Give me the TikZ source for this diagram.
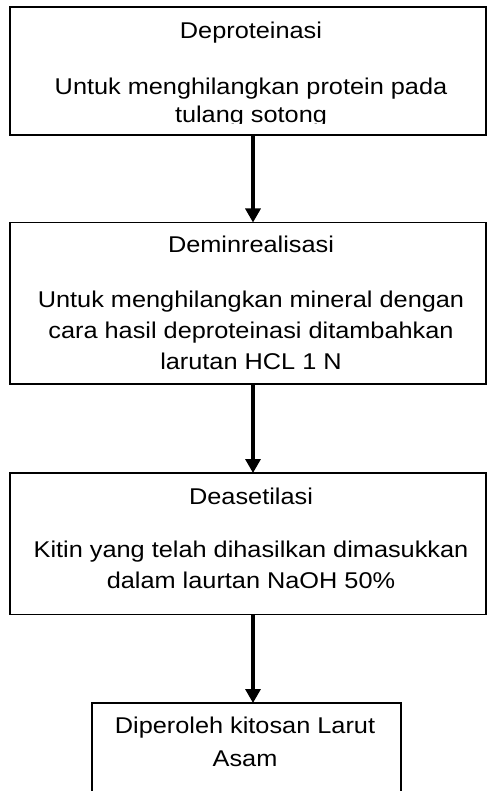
\documentclass[tikz,border=0pt]{standalone}
\usepackage{fontspec}
\setmainfont{Liberation Sans}[FakeStretch=1.11]
\usetikzlibrary{arrows.meta}
\begin{document}
\begin{tikzpicture}[x=1pt,y=-1pt,
  box/.style={draw=black,line width=1.1pt,inner sep=0pt,outer sep=0pt,rectangle},
  txt/.style={anchor=base,inner sep=0pt,font=\fontsize{22.8pt}{26pt}\selectfont},
  arr/.style={line width=3.2pt,-{Triangle[width=15pt,length=14pt]}}]
\useasboundingbox (0,0) rectangle (487,791);
\fill[white] (0,0) rectangle (487,791);
% boxes
\node[box,minimum width=476pt,minimum height=128pt] (b1) at (248,71) {};
\node[box,minimum width=476pt,minimum height=161.5pt] (b2) at (248,303.25) {};
\node[box,minimum width=476pt,minimum height=141.5pt] (b3) at (248,543.75) {};
\node[box,minimum width=309pt,minimum height=110pt] (b4) at (246.5,758) {};
% arrow anchors
\coordinate (a1s) at (253,135);
\coordinate (a2s) at (253,384);
\coordinate (a3s) at (253,614.5);
% texts
\begin{scope}
\clip (10,7) rectangle (486,123.8);
\node[txt] (t1a) at (251,38.5) {Deproteinasi};
\node[txt] (t1b) at (251,95) {Untuk menghilangkan protein pada};
\node[txt] (t1c) at (251,122.3) {tulang sotong};
\end{scope}
\node[txt] (t2a) at (251,253) {Deminrealisasi};
\node[txt] (t2b) at (251,307) {Untuk menghilangkan mineral dengan};
\node[txt] (t2c) at (251,338) {cara hasil deproteinasi ditambahkan};
\node[txt] (t2d) at (251,369) {larutan HCL 1 N};
\node[txt] (t3a) at (251,504) {Deasetilasi};
\node[txt] (t3b) at (251,557) {Kitin yang telah dihasilkan dimasukkan};
\node[txt] (t3c) at (251,588) {dalam laurtan NaOH 50\%};
\node[txt] (t4a) at (245,733) {Diperoleh kitosan Larut};
\node[txt] (t4b) at (245,766) {Asam};
% arrows
\draw[arr] (a1s) -- (a1s |- b2.north);
\draw[arr] (a2s) -- (a2s |- b3.north);
\draw[arr] (a3s) -- (a3s |- b4.north);
\end{tikzpicture}
\end{document}
